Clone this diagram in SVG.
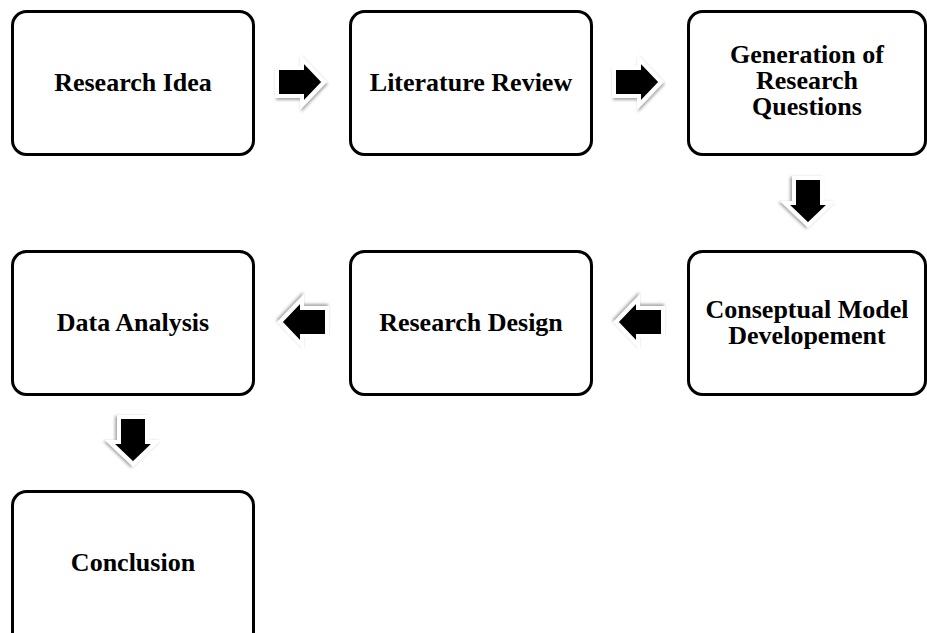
<svg xmlns="http://www.w3.org/2000/svg" width="927" height="633" viewBox="0 0 927 633">
  <style>
    .box { fill: #ffffff; stroke: #000000; stroke-width: 3; }
    .lbl { font-family: "Liberation Serif", "Times New Roman", serif; font-weight: bold; font-size: 26px; fill: #000000; text-anchor: middle; }
    .arr { fill: #000000; stroke: #ffffff; stroke-width: 4; stroke-linejoin: miter; filter: url(#shadow); }
  </style>
  <defs>
    <filter id="shadow" x="-30%" y="-30%" width="160%" height="160%">
      <feDropShadow dx="1" dy="2" stdDeviation="1.5" flood-color="#000000" flood-opacity="0.35"/>
    </filter>
    <!-- block arrow pointing right, origin at left-middle of shaft -->
    <path id="arrowR" d="M0,-14 L25,-14 L25,-23 L47,0 L25,23 L25,14 L0,14 Z"/>
  </defs>
  <rect width="927" height="633" fill="#ffffff"/>

  <g id="connectors">
    <use href="#arrowR" class="arr" transform="translate(277,82)"/>
    <use href="#arrowR" class="arr" transform="translate(614,82)"/>
    <use href="#arrowR" class="arr" transform="translate(808,178) rotate(90)"/>
    <use href="#arrowR" class="arr" transform="translate(663,322) rotate(180)"/>
    <use href="#arrowR" class="arr" transform="translate(327,322) rotate(180)"/>
    <use href="#arrowR" class="arr" transform="translate(133,417) rotate(90)"/>
  </g>

  <g id="research-idea">
    <rect class="box" x="12.5" y="11.5" width="241" height="143" rx="14"/>
    <text class="lbl" x="133" y="91">Research Idea</text>
  </g>
  <g id="literature-review">
    <rect class="box" x="350.5" y="11.5" width="241" height="143" rx="14"/>
    <text class="lbl" x="471" y="91">Literature Review</text>
  </g>
  <g id="research-questions">
    <rect class="box" x="688.5" y="11.5" width="237" height="143" rx="14"/>
    <text class="lbl" x="807" y="63">Generation of</text>
    <text class="lbl" x="807" y="89">Research</text>
    <text class="lbl" x="807" y="115">Questions</text>
  </g>
  <g id="conceptual-model">
    <rect class="box" x="688.5" y="251.5" width="237" height="143" rx="14"/>
    <text class="lbl" x="807" y="318">Conseptual Model</text>
    <text class="lbl" x="807" y="344">Developement</text>
  </g>
  <g id="research-design">
    <rect class="box" x="350.5" y="251.5" width="241" height="143" rx="14"/>
    <text class="lbl" x="471" y="331">Research Design</text>
  </g>
  <g id="data-analysis">
    <rect class="box" x="12.5" y="251.5" width="241" height="143" rx="14"/>
    <text class="lbl" x="133" y="331">Data Analysis</text>
  </g>
  <g id="conclusion">
    <rect class="box" x="12.5" y="491.5" width="241" height="155" rx="14"/>
    <text class="lbl" x="133" y="571">Conclusion</text>
  </g>
</svg>
